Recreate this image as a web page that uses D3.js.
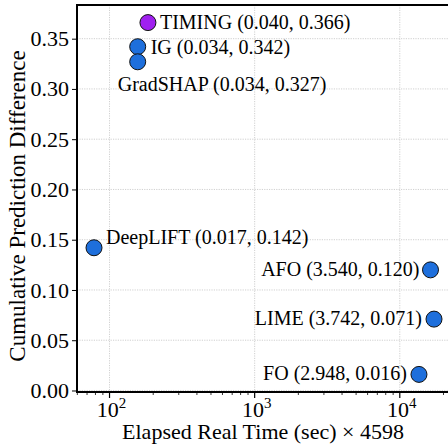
<!DOCTYPE html>
<html>
<head>
<meta charset="utf-8">
<script src="https://cdn.jsdelivr.net/npm/d3@7"></script>
<style>
  body { margin: 0; background: #fff; }
  svg { display: block; font-family: "Liberation Serif", "Times New Roman", serif; }
</style>
</head>
<body>
<script>
// method names, raw time, scaled time shown in label, y value
const methods = ["TIMING", "IG", "GradSHAP", "DeepLIFT", "AFO", "LIME", "FO"];
const timeLabel = [0.040, 0.034, 0.034, 0.017, 3.540, 3.742, 2.948];
const cpd = [0.366, 0.342, 0.327, 0.142, 0.120, 0.071, 0.016];
const timeScale = 4598;
const yTicks = [0.00, 0.05, 0.10, 0.15, 0.20, 0.25, 0.30, 0.35];
const xTicks = [100, 1000, 10000];

function main() {
    const width = 448, height = 446;
    const left = 77, right = 451, top = 5, bottom = 392;

    const svg = d3.select("body").append("svg")
        .attr("width", width)
        .attr("height", height);

    const xs = timeLabel.map(d => d * timeScale);
    const lx = d3.extent(xs).map(Math.log10);
    const padX = (lx[1] - lx[0]) * 0.05;
    const x = d3.scaleLog()
        .domain([Math.pow(10, lx[0] - padX), Math.pow(10, lx[1] + padX)])
        .range([left, right]);
    const ey = d3.extent(cpd);
    const padY = (ey[1] - ey[0]) * 0.05;
    const y = d3.scaleLinear()
        .domain([ey[0] - padY, ey[1] + padY])
        .range([bottom, top]);

    // grid
    const grid = svg.append("g").attr("stroke", "#c4c4c4").attr("stroke-width", 0.8)
        .attr("stroke-dasharray", "1.2,1.2");
    grid.selectAll(".gy").data(yTicks).enter().append("line")
        .attr("x1", left).attr("x2", right)
        .attr("y1", d => y(d)).attr("y2", d => y(d));
    grid.selectAll(".gx").data(xTicks).enter().append("line")
        .attr("x1", d => x(d)).attr("x2", d => x(d))
        .attr("y1", top).attr("y2", bottom);

    // y axis
    const yAxis = svg.append("g")
        .attr("transform", `translate(${left},0)`)
        .call(d3.axisLeft(y).tickValues(yTicks).tickFormat(d3.format(".2f")).tickSize(5).tickPadding(3));
    yAxis.select(".domain").remove();
    yAxis.selectAll("text").attr("font-size", 22).attr("font-family", "Liberation Serif").attr("fill", "#000");

    // x axis: minor ticks
    const minor = [];
    x.ticks().forEach(t => { if (t >= x.domain()[0] && t <= x.domain()[1]) minor.push(t); });
    const xAxis = svg.append("g").attr("transform", `translate(0,${bottom})`);
    xAxis.selectAll(".mt").data(minor).enter().append("line")
        .attr("x1", d => x(d)).attr("x2", d => x(d))
        .attr("y1", 0).attr("y2", d => xTicks.includes(d) ? 6 : 3)
        .attr("stroke", "#000").attr("stroke-width", d => xTicks.includes(d) ? 1.2 : 0.8);
    const xl = xAxis.selectAll(".xl").data(xTicks).enter().append("text")
        .attr("x", d => x(d) + 2).attr("y", 25)
        .attr("text-anchor", "middle").attr("font-size", 22);
    xl.append("tspan").text("10");
    xl.append("tspan").attr("dy", -9).attr("font-size", 15).text(d => Math.round(Math.log10(d)));

    // spines
    svg.append("path")
        .attr("d", `M${right},${top}H${left}V${bottom}H${right}`)
        .attr("fill", "none").attr("stroke", "#000").attr("stroke-width", 2);

    // points + labels
    const place = {
        TIMING: [12, -1, "start"],
        IG: [13, 0, "start"],
        GradSHAP: [-20, 22, "start"],
        DeepLIFT: [12, -11, "start"],
        AFO: [-11, -1, "end"],
        LIME: [-12, -1, "end"],
        FO: [-12, -1, "end"]
    };
    const rows = methods.map((m, i) => ({ name: m, t: xs[i], tl: timeLabel[i], v: cpd[i] }));
    svg.selectAll(".pt").data(rows).enter().append("circle")
        .attr("cx", d => x(d.t)).attr("cy", d => y(d.v)).attr("r", 8)
        .attr("fill", d => d.name === "TIMING" ? "#a020f0" : "#1e6fdc")
        .attr("stroke", "#111").attr("stroke-width", 1);
    svg.selectAll(".lb").data(rows).enter().append("text")
        .attr("x", d => x(d.t) + place[d.name][0])
        .attr("y", d => y(d.v) + place[d.name][1])
        .attr("dominant-baseline", "central")
        .attr("text-anchor", d => place[d.name][2])
        .attr("font-size", 20)
        .text(d => `${d.name} (${d.tl.toFixed(3)}, ${d.v.toFixed(3)})`);

    // axis titles
    svg.append("text")
        .attr("x", 263).attr("y", 439).attr("text-anchor", "middle").attr("font-size", 22)
        .text("Elapsed Real Time (sec) \u00d7 4598");
    svg.append("text")
        .attr("transform", "translate(25,206) rotate(-90)").attr("text-anchor", "middle").attr("font-size", 23)
        .text("Cumulative Prediction Difference");
}
main();
</script>
</body>
</html>
